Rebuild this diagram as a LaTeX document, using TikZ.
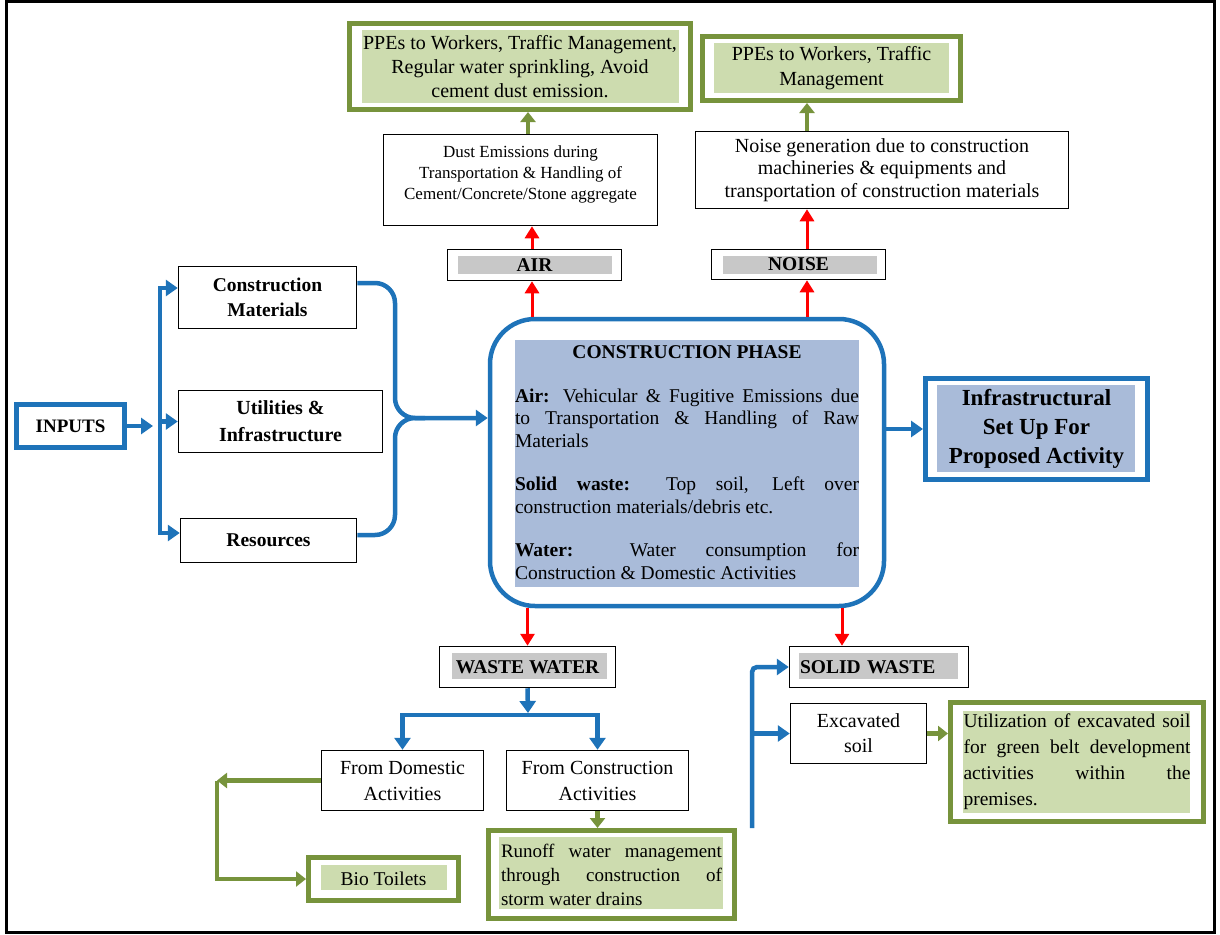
\documentclass[tikz,border=0pt]{standalone}
\usepackage{fontspec}
\setmainfont{Liberation Serif}
\usetikzlibrary{arrows.meta}
\setlength{\parindent}{0pt}
\definecolor{cblue}{RGB}{30,115,185}
\definecolor{cgreen}{RGB}{119,147,60}
\definecolor{cgfill}{RGB}{205,220,175}
\definecolor{cgray}{RGB}{200,200,200}
\definecolor{cpfill}{RGB}{169,187,217}
\tikzset{
  fs/.style 2 args={font=\fontsize{#1}{#2}\selectfont},
  bfs/.style 2 args={font=\fontsize{#1}{#2}\selectfont\bfseries},
  plain/.style={draw=black, line width=1.5pt, inner sep=0pt, align=center},
  gbox/.style={draw=cgreen, line width=5pt, inner sep=0pt, align=center},
  bbox/.style={draw=cblue, line width=5pt, inner sep=0pt, align=center},
  inset/.style n args={5}{path picture={\fill[#1, sharp corners] ([xshift=#2,yshift=-#3]path picture bounding box.north west) rectangle ([xshift=-#4,yshift=#5]path picture bounding box.south east);}},
  bluearr/.style={draw=cblue, line width=4.5pt, -{Triangle[length=12pt,width=16pt]}},
  blueline/.style={draw=cblue, line width=4.5pt},
  redarr/.style={draw=red, line width=3pt, -{Triangle[length=12pt,width=14pt]}},
  greenarr/.style={draw=cgreen, line width=4.5pt, -{Triangle[length=10pt,width=15pt]}},
}
\begin{document}
\begin{tikzpicture}[x=1pt,y=-1pt]
\useasboundingbox (0,0) rectangle (1220,934);
\draw[line width=3pt] (6.5,1.5) rectangle (1214.5,932.5);

% top row
\node[gbox, inset={cgfill}{12pt}{7pt}{12pt}{7pt}, minimum width=341pt, minimum height=86pt, fs={20}{24}] (ppeA) at (520,66.5)
  {PPEs to Workers, Traffic Management,\\Regular water sprinkling, Avoid\\cement dust emission.};
\node[plain, minimum width=274pt, minimum height=91pt, fs={17}{21}] (dust) at (520.5,180)
  {\parbox{270pt}{\centering Dust Emissions during\\Transportation \& Handling of\\Cement/Concrete/Stone aggregate\par\vspace{12pt}}};
\node[plain, inset={cgray}{10pt}{6pt}{10pt}{7pt}, minimum width=174pt, minimum height=31pt, bfs={19.5}{22}] (air) at (534.5,265) {AIR};

\node[gbox, inset={cgfill}{11pt}{7pt}{12pt}{8pt}, minimum width=258pt, minimum height=64pt, fs={20}{25}] (ppeB) at (831.5,68.5)
  {PPEs to Workers, Traffic\\Management};
\node[plain, minimum width=373pt, minimum height=77pt, fs={20}{22.5}] (nz) at (882,170)
  {Noise generation due to construction\\machineries \& equipments and\\transportation of construction materials};
\node[plain, inset={cgray}{11pt}{6pt}{9pt}{6pt}, minimum width=174pt, minimum height=30pt, bfs={19.5}{22}] (noise) at (798.5,264.5) {NOISE};

% left side
\node[bbox, minimum width=108pt, minimum height=43pt, bfs={19}{22}] (inputs) at (70.5,426) {INPUTS};
\node[plain, minimum width=178pt, minimum height=62pt, bfs={19.5}{25}] (cm) at (267.5,297.5) {Construction\\Materials};
\node[plain, minimum width=204pt, minimum height=62pt, bfs={20}{27}] (uti) at (280.5,421.5) {Utilities \&\\Infrastructure};
\node[plain, minimum width=176pt, minimum height=44pt, bfs={19.5}{22}] (res) at (268.5,540.5) {Resources};

% centre
\node[draw=cblue, line width=4.5pt, rounded corners=45pt, inset={cpfill}{25pt}{21pt}{25pt}{19pt}, minimum width=394pt, minimum height=287pt, inner sep=0pt, text width=344pt, align=justify, fs={19.5}{22.5}] (cp) at (687,462.5)
  {{\centering\bfseries CONSTRUCTION PHASE\par}\vspace{21pt}%
   \textbf{Air:} Vehicular \& Fugitive Emissions due\linebreak to Transportation \& Handling of Raw\linebreak Materials\par\vspace{21pt}%
   \textbf{Solid waste:} Top soil, Left over\linebreak construction materials/debris etc.\par\vspace{21pt}%
   \textbf{Water:} Water consumption for\linebreak Construction \& Domestic Activities};

\node[bbox, inset={cpfill}{11.5pt}{6.5pt}{12.5pt}{7.5pt}, minimum width=222pt, minimum height=101pt, bfs={23}{29}] (infra) at (1036.5,429)
  {Infrastructural\\Set Up For\\Proposed Activity};

% bottom
\node[plain, inset={cgray}{12pt}{6pt}{9pt}{9pt}, minimum width=176pt, minimum height=41pt, bfs={19.5}{22}] (ww) at (527.5,667) {WASTE WATER};
\node[plain, inset={cgray}{9pt}{6pt}{11pt}{9pt}, minimum width=179pt, minimum height=41pt, bfs={19.5}{22}, text width=158pt, align=left] (sw) at (879,667) {SOLID WASTE};
\node[plain, minimum width=162pt, minimum height=60pt, fs={20}{26}] (dom) at (402.5,780.5) {From Domestic\\Activities};
\node[plain, minimum width=182pt, minimum height=60pt, fs={20}{26}] (con) at (597.5,780.5) {From Construction\\Activities};
\node[gbox, inset={cgfill}{12.5pt}{7.5pt}{11.5pt}{10.5pt}, minimum width=150pt, minimum height=43pt, fs={19.5}{22}] (bio) at (383.5,879) {Bio Toilets};
\node[gbox, inset={cgfill}{10.5pt}{6.5pt}{11.5pt}{9.5pt}, minimum width=246pt, minimum height=88pt, text width=221pt, align=justify, fs={19}{24}] (run) at (611.5,874.5)
  {Runoff water management\linebreak through construction of\linebreak storm water drains};
\node[plain, minimum width=136pt, minimum height=60pt, fs={20}{25}] (exc) at (858.5,733.5) {Excavated\\soil};
\node[gbox, inset={cgfill}{12.5pt}{8.5pt}{13.5pt}{8.5pt}, minimum width=253pt, minimum height=119pt, text width=227pt, align=justify, fs={19.5}{26}] (utl) at (1077,762)
  {Utilization of excavated soil\linebreak for green belt development\linebreak activities within the\linebreak premises.};

% connectors top
\coordinate (ax) at (532,0);
\coordinate (gx) at (528,0);
\coordinate (nx) at (807,0);
\draw[redarr] (cp.north -| ax) -- (air.south -| ax);
\draw[redarr] (air.north -| ax) -- (dust.south -| ax);
\draw[greenarr] (dust.north -| gx) -- (ppeA.south -| gx);
\draw[redarr] (cp.north -| nx) -- (noise.south -| nx);
\draw[redarr] (noise.north -| nx) -- (nz.south -| nx);
\draw[greenarr] (nz.north -| nx) -- (ppeB.south -| nx);

% inputs
\coordinate (ij) at (153,426);
\coordinate (vt) at (160,288);
\coordinate (vb) at (160,533);
\draw[bluearr] (inputs.east) -- (ij);
\draw[blueline, line cap=rect] (vt) -- (vb);
\draw[bluearr] (vt) -- (vt -| cm.west);
\draw[bluearr] (vt |- uti.west) -- (uti.west);
\draw[bluearr] (vb) -- (vb -| res.west);

% brace
\coordinate (bt) at (395,283);
\coordinate (bb) at (395,535);
\coordinate (bj) at (395,418);
\draw[bluearr, rounded corners=20pt] (bt -| cm.east) -- (bt) -- (bj) -- (bj -| cp.west);
\draw[blueline, rounded corners=20pt] (bb -| res.east) -- (bb) -- (bj) -- ++(30,0);
\draw[bluearr] (infra.west -| cp.east) -- (infra.west);

% bottom connectors
\coordinate (sx) at (842,0);
\draw[redarr] (ww.north |- cp.south) -- (ww.north);
\draw[redarr] (cp.south -| sx) -- (sw.north -| sx);
\coordinate (wsp) at (528,715);
\draw[bluearr] (ww.south) -- ([yshift=2pt]wsp);
\draw[bluearr] (wsp) -| (dom.north);
\draw[bluearr] (wsp) -| (con.north);
\coordinate (gc) at (217,780.5);
\draw[greenarr] (dom.west) -- (gc);
\draw[greenarr] (gc) |- (bio.west);
\draw[greenarr] (con.south) -- (con.south |- run.north);
\coordinate (sb) at (752,828);
\draw[bluearr, rounded corners=5pt] (sb) |- (sw.west);
\draw[bluearr] (exc.west -| sb) -- (exc.west);
\draw[greenarr] (exc.east) -- (exc.east -| utl.west);
\end{tikzpicture}
\end{document}
